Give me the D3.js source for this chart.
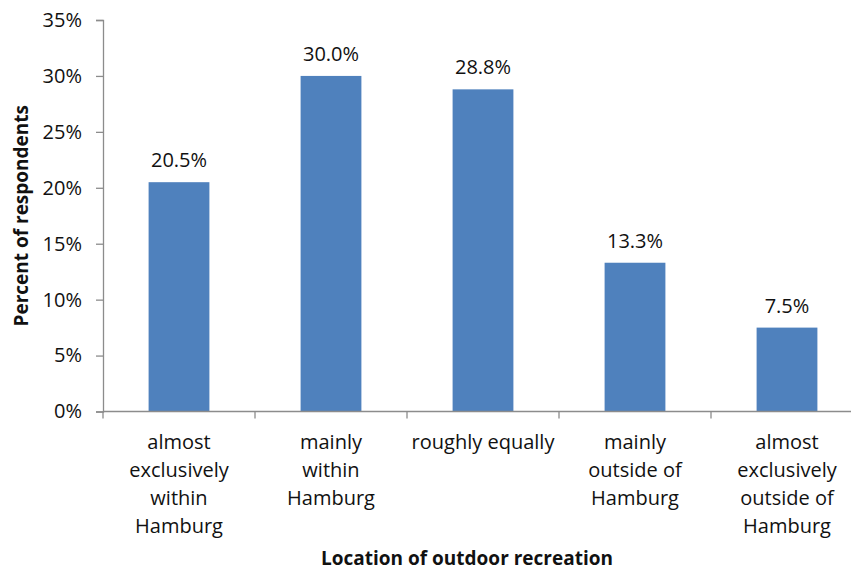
<!DOCTYPE html>
<html>
<head>
<meta charset="utf-8">
<script src="https://cdn.jsdelivr.net/npm/d3@7"></script>
<style>
  html, body { margin: 0; padding: 0; background: #fff; }
  svg { display: block; }
  text { font-family: "Open Sans", "Noto Sans", sans-serif; fill: #111; }
</style>
</head>
<body>
<svg id="chart" width="851" height="570"></svg>
<script>
const categories = [
  ["almost", "exclusively", "within", "Hamburg"],
  ["mainly", "within", "Hamburg"],
  ["roughly equally"],
  ["mainly", "outside of", "Hamburg"],
  ["almost", "exclusively", "outside of", "Hamburg"]
];
const values = [20.5, 30.0, 28.8, 13.3, 7.5];
const yTicks = [0, 5, 10, 15, 20, 25, 30, 35];
const xTitle = "Location of outdoor recreation";
const yTitle = "Percent of respondents";

(function () {
const svg = d3.select("#chart");
const pLeft = 103, pRight = 863, pTop = 20, pBottom = 411.5;
const ids = categories.map((d, i) => i);

const x = d3.scaleBand().domain(ids).range([pLeft, pRight])
  .paddingInner(0.6).paddingOuter(0.3);
const xb = d3.scaleBand().domain(ids).range([pLeft, pRight]).padding(0);
const y = d3.scaleLinear().domain([0, 35]).range([pBottom, pTop]);

const axisColor = "#8c8c8c";
const fs = 20;

// bars
svg.append("g").selectAll("rect").data(values).join("rect")
  .attr("x", (d, i) => x(i))
  .attr("y", d => y(d))
  .attr("width", x.bandwidth())
  .attr("height", d => y(0) - y(d))
  .attr("fill", "#4f81bd");

// y axis
const yAxis = svg.append("g").attr("transform", `translate(${pLeft},0)`)
  .call(d3.axisLeft(y).tickValues(yTicks).tickFormat(d => d + "%").tickSize(7).tickPadding(14));
yAxis.select(".domain").attr("stroke", axisColor).attr("stroke-width", 1.3);
yAxis.selectAll(".tick line").attr("stroke", axisColor).attr("stroke-width", 1.3);
yAxis.selectAll(".tick text").attr("font-size", fs).attr("fill", "#111")
  .attr("font-family", "'Open Sans', sans-serif");

// x axis line and boundary ticks
const xg = svg.append("g");
xg.append("line").attr("x1", pLeft).attr("x2", pRight).attr("y1", y(0)).attr("y2", y(0))
  .attr("stroke", axisColor).attr("stroke-width", 1.3);
xg.selectAll("line.bt").data(ids.concat([ids.length])).join("line").attr("class", "bt")
  .attr("x1", i => i < ids.length ? xb(i) : pRight)
  .attr("x2", i => i < ids.length ? xb(i) : pRight)
  .attr("y1", y(0)).attr("y2", y(0) + 7)
  .attr("stroke", axisColor).attr("stroke-width", 1.3);

// category labels
const cl = xg.selectAll("text.cat").data(categories).join("text").attr("class", "cat")
  .attr("text-anchor", "middle").attr("font-size", fs)
  .attr("x", (d, i) => xb(i) + xb.bandwidth() / 2)
  .attr("y", y(0) + 37.5);
cl.selectAll("tspan").data(d => d).join("tspan")
  .attr("x", function() { return d3.select(this.parentNode).attr("x"); })
  .attr("dy", (d, i) => i === 0 ? 0 : 28)
  .text(d => d);

// value labels
svg.append("g").selectAll("text").data(values).join("text")
  .attr("text-anchor", "middle").attr("font-size", fs)
  .attr("x", (d, i) => x(i) + x.bandwidth() / 2)
  .attr("y", d => y(d) - 15)
  .text(d => d.toFixed(1) + "%");

// axis titles
svg.append("text").attr("text-anchor", "middle").attr("font-size", 19).attr("font-weight", "bold")
  .attr("x", 467).attr("y", 565).text(xTitle);
svg.append("text").attr("text-anchor", "middle").attr("font-size", 19).attr("font-weight", "bold")
  .attr("transform", `translate(28,${(pTop + pBottom) / 2}) rotate(-90)`).text(yTitle);
})();
</script>
</body>
</html>
